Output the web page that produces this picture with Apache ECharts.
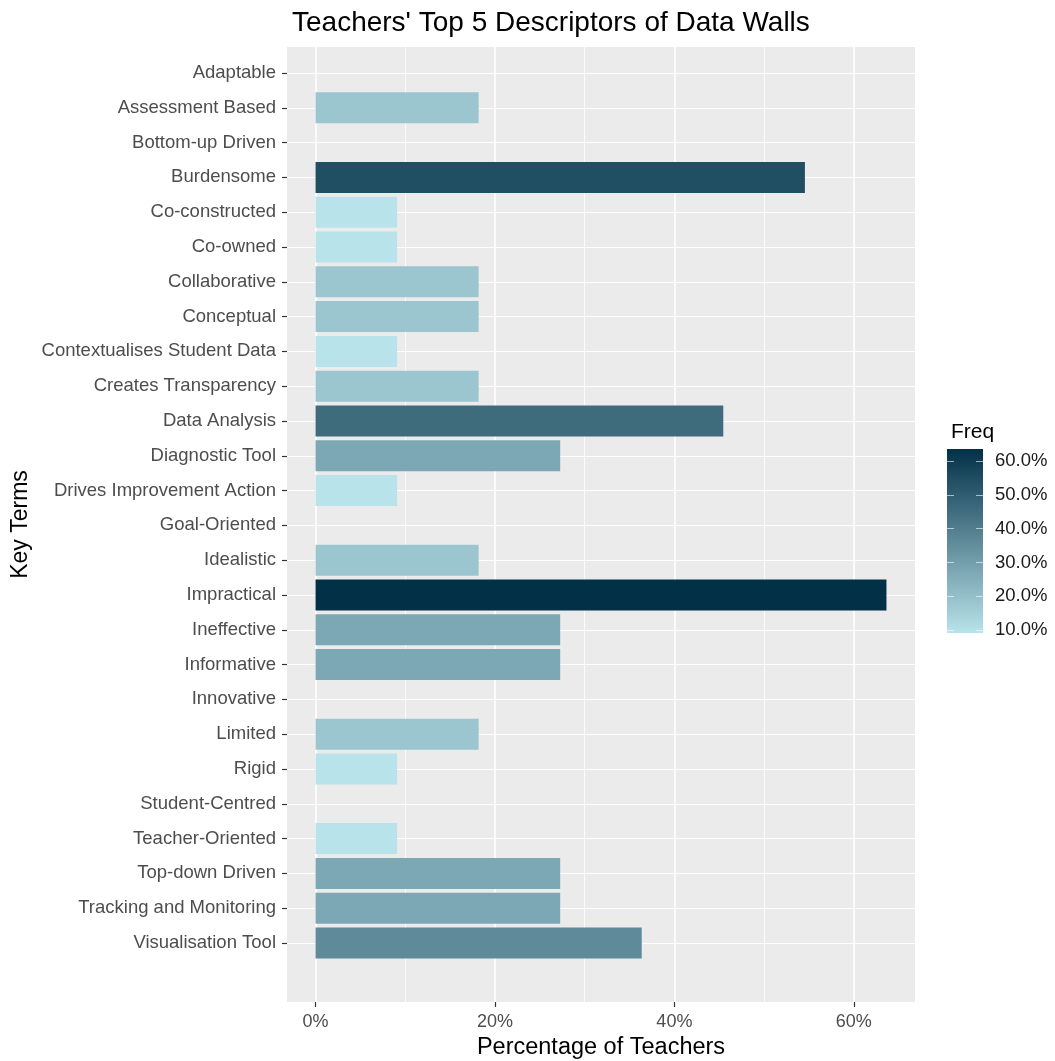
<!DOCTYPE html>
<html>
<head>
<meta charset="utf-8">
<script src="https://cdn.jsdelivr.net/npm/echarts@6/dist/echarts.min.js"></script>
<style>html,body{margin:0;padding:0;background:#fff;}#c{width:1055px;height:1061px;}</style>
</head>
<body>
<div id="c"></div>
<script>
// ---- data ----
const categories = [
  "Adaptable","Assessment Based","Bottom-up Driven","Burdensome","Co-constructed","Co-owned",
  "Collaborative","Conceptual","Contextualises Student Data","Creates Transparency","Data Analysis",
  "Diagnostic Tool","Drives Improvement Action","Goal-Oriented","Idealistic","Impractical",
  "Ineffective","Informative","Innovative","Limited","Rigid","Student-Centred","Teacher-Oriented",
  "Top-down Driven","Tracking and Monitoring","Visualisation Tool"
];
const percentValues = [
  0, 18.18, 0, 54.55, 9.09, 9.09,
  18.18, 18.18, 9.09, 18.18, 45.45,
  27.27, 9.09, 0, 18.18, 63.64,
  27.27, 27.27, 0, 18.18, 9.09, 0, 9.09,
  27.27, 27.27, 36.36
];
const xTickValues = [0, 20, 40, 60];
const xMinorGridValues = [10, 30, 50];
const legendTickValues = [10, 20, 30, 40, 50, 60];

// ---- scales ----
const nonZero = percentValues.filter(v => v > 0);
const dataMax = Math.max(...percentValues);
const colMin = Math.min(...nonZero), colMax = Math.max(...nonZero);
const pad = (dataMax - 0) * 0.05;
const xMin = 0 - pad, xMax = dataMax + pad;
const lowCol = '#b9e3ea', highCol = '#023047';
const FONT = 'Liberation Sans, Arial, sans-serif';

const chart = echarts.init(document.getElementById('c'), null, {renderer: 'canvas'});
const option = {
  backgroundColor: '#fff',
  animation: false,
  textStyle: {fontFamily: FONT},
  title: [
    {text: "Teachers' Top 5 Descriptors of Data Walls", left: 287, top: 4,
     textStyle: {fontFamily: FONT, fontSize: 28, fontWeight: 'normal', color: '#000'}},
    {text: 'Freq', left: 946, top: 417,
     textStyle: {fontFamily: FONT, fontSize: 21, fontWeight: 'normal', color: '#000'}}
  ],
  grid: [
    {left: 287, right: 140, top: 47, bottom: 59, show: true, backgroundColor: '#ebebeb', borderWidth: 0, z: 0,
     containLabel: false, outerBoundsMode: 'none'},
    {left: 287, right: 140, top: 73, bottom: 118, show: false, containLabel: false, outerBoundsMode: 'none'},
    {left: 947, top: 449, width: 36, height: 184, show: true, borderWidth: 0,
     containLabel: false, outerBoundsMode: 'none',
     backgroundColor: {type: 'linear', x: 0, y: 0, x2: 0, y2: 1,
       colorStops: [{offset: 0, color: highCol}, {offset: 1, color: lowCol}]}}
  ],
  xAxis: [
    {gridIndex: 0, type: 'value', min: xMin, max: xMax,
     axisLine: {show: false, onZero: false}, splitLine: {show: false},
     axisTick: {show: true, customValues: xTickValues, length: 5, lineStyle: {color: '#333', width: 1.2}},
     axisLabel: {customValues: xTickValues, formatter: v => Math.round(v) + '%', color: '#4d4d4d',
                 fontSize: 18, margin: 11, fontFamily: FONT},
     name: 'Percentage of Teachers', nameLocation: 'middle', nameGap: 32,
     nameTextStyle: {fontSize: 23.5, color: '#000', fontFamily: FONT}},
    {gridIndex: 1, type: 'value', min: xMin, max: xMax, show: false},
    {gridIndex: 2, type: 'value', show: false}
  ],
  yAxis: [
    {gridIndex: 0, type: 'value', min: 0, max: 1,
     axisLine: {show: false, onZero: false}, axisTick: {show: false}, axisLabel: {show: false}, splitLine: {show: false},
     name: 'Key Terms', nameLocation: 'middle', nameRotate: 90, nameGap: 255,
     nameTextStyle: {fontSize: 23, color: '#000', fontFamily: FONT}},
    {gridIndex: 1, type: 'category', data: categories, inverse: true, boundaryGap: false,
     axisLine: {show: false, onZero: false},
     axisTick: {show: true, length: 5, lineStyle: {color: '#333', width: 1.2}},
     axisLabel: {interval: 0, color: '#4d4d4d', fontSize: 18.5, margin: 11, fontFamily: FONT},
     splitLine: {show: true, lineStyle: {color: '#ffffff', width: 1.2}}, z: 1},
    {gridIndex: 2, type: 'value', min: colMin, max: colMax, position: 'right',
     axisLine: {show: false, onZero: false}, splitLine: {show: false},
     axisTick: {show: true, inside: true, length: 7, customValues: legendTickValues,
                lineStyle: {color: 'rgba(255,255,255,0.6)', width: 1}},
     axisLabel: {customValues: legendTickValues, formatter: v => v.toFixed(1) + '%', color: '#1a1a1a',
                 fontSize: 18.5, margin: 12, fontFamily: FONT}},
    {gridIndex: 2, type: 'value', min: colMin, max: colMax, position: 'left',
     axisLine: {show: false, onZero: false}, splitLine: {show: false}, axisLabel: {show: false},
     axisTick: {show: true, inside: true, length: 7, customValues: legendTickValues,
                lineStyle: {color: 'rgba(255,255,255,0.6)', width: 1}}}
  ],
  visualMap: {
    show: false, type: 'continuous', seriesIndex: 1, dimension: 0,
    min: colMin, max: colMax, inRange: {color: [lowCol, highCol]}
  },
  series: [
    {type: 'line', xAxisIndex: 0, yAxisIndex: 0, data: [], z: 1, silent: true,
     markLine: {silent: true, symbol: 'none', label: {show: false},
       data: xTickValues.map(v => ({xAxis: v, lineStyle: {color: '#fff', width: 1.6, type: 'solid'}}))
         .concat(xMinorGridValues.map(v => ({xAxis: v, lineStyle: {color: '#fff', width: 0.8, type: 'solid'}})))
     }},
    {type: 'bar', xAxisIndex: 1, yAxisIndex: 1, data: percentValues, barWidth: 31, clip: false, z: 5}
  ]
};
chart.setOption(option);
</script>
</body>
</html>
